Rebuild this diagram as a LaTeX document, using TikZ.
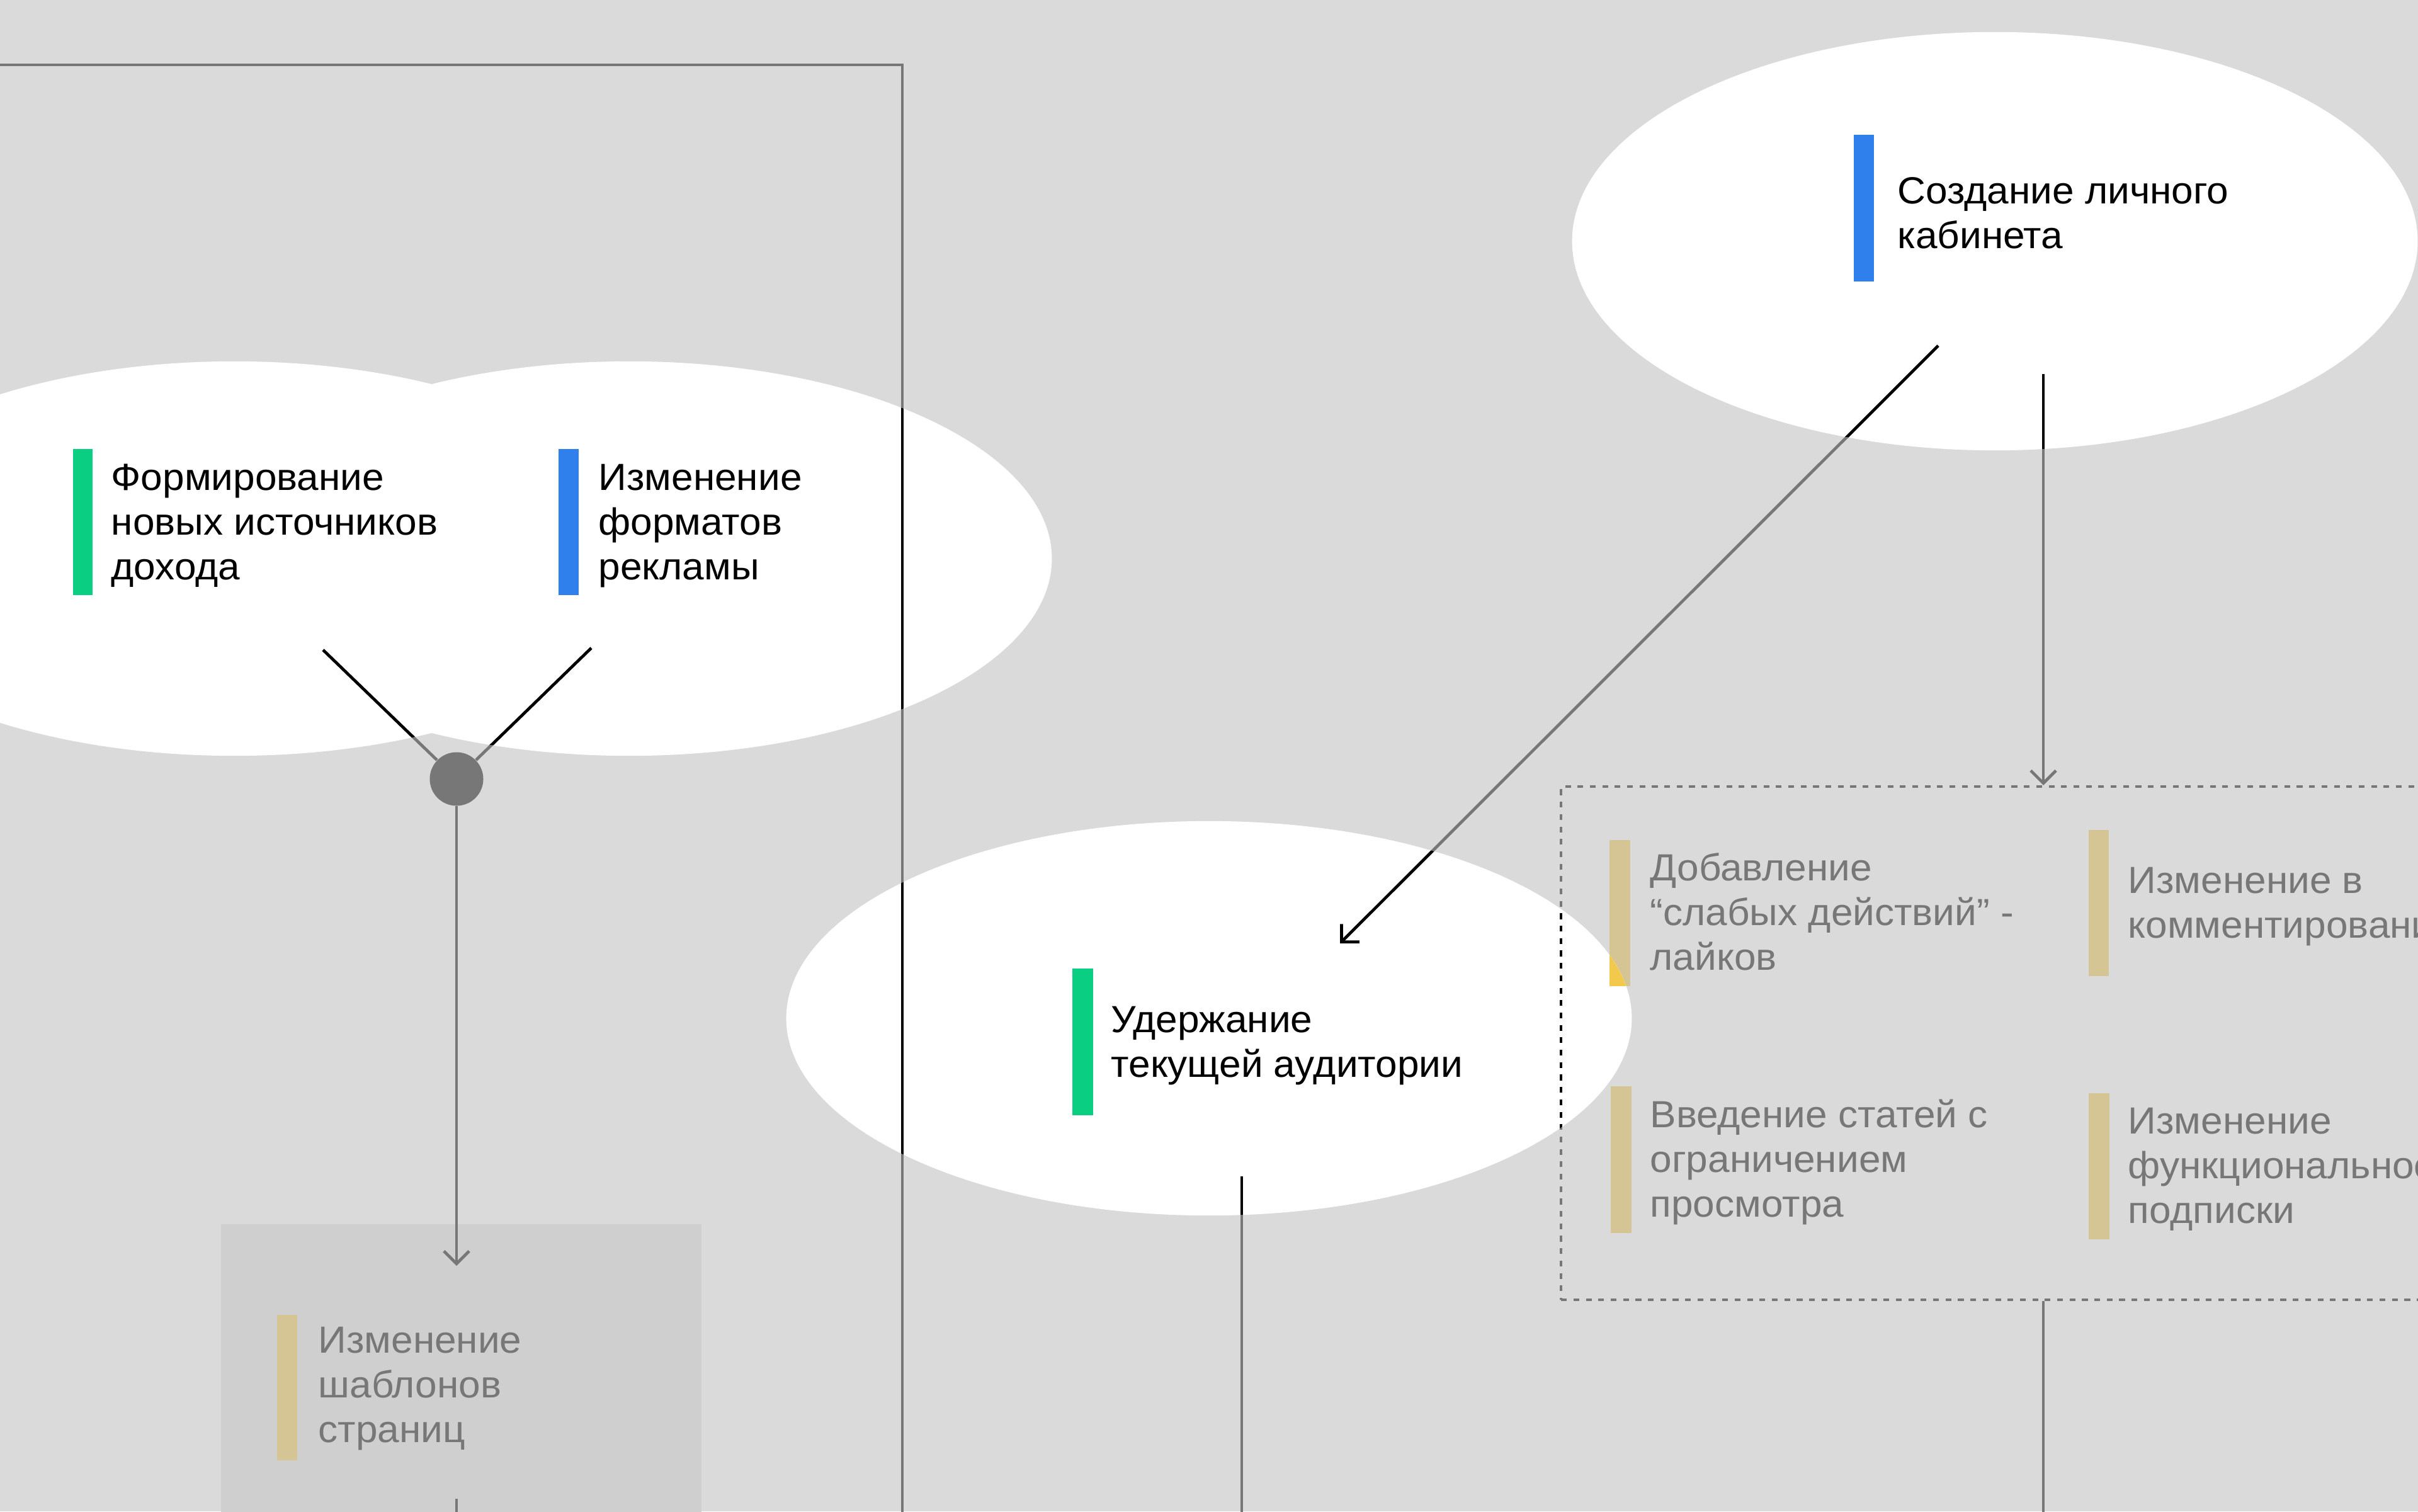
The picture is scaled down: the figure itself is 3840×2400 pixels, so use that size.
\documentclass[tikz,border=0pt]{standalone}
\usepackage{fontspec}
\setmainfont[FakeStretch=1.035]{Liberation Sans}
\usetikzlibrary{arrows.meta}

% base tone of the dimming veil and the undimmed colours
\definecolor{dimbase}{gray}{0.763}
\definecolor{rawgreen}{HTML}{0ACF83}
\definecolor{rawblue}{HTML}{2F80ED}
\definecolor{rawyellow}{HTML}{F2C94C}
\definecolor{rawtile}{HTML}{E3E3E3}

% #1 = share of the undimmed colour (100 = full colour)
\newcommand\usepalette[1]{%
  \colorlet{inkC}{black!#1!dimbase}%
  \colorlet{paperC}{white!#1!dimbase}%
  \colorlet{greenC}{rawgreen!#1!dimbase}%
  \colorlet{blueC}{rawblue!#1!dimbase}%
  \colorlet{yellowC}{rawyellow!#1!dimbase}%
  \colorlet{tileC}{rawtile!#1!dimbase}%
}
\newcommand\labelfont{\fontsize{17.07pt}{20.2pt}\selectfont}
\newcommand\stack[1]{\begin{tabular}[t]{@{}l@{}}#1\end{tabular}}

\tikzset{
  wire/.style={draw=inkC, line width=1.35pt},
  tip/.style={-{Straight Barb[length=5.7pt,width=11.4pt]}},
  lbl/.style={anchor=base west, inner sep=0pt, text=inkC, font=\labelfont},
  hubdot/.style={circle, fill=inkC, minimum size=0.85cm, inner sep=0pt},
  groupbox/.style={draw=inkC, line width=1.25pt, dash pattern=on 2.6pt off 3pt,
    anchor=north west, inner sep=0pt, minimum width=15cm, minimum height=8.14cm},
  tilebox/.style={fill=tileC, anchor=north west, inner sep=0pt,
    minimum width=7.63cm, minimum height=5cm},
}

\newcommand\Diagram{%
  \fill[paperC] (0,0) rectangle (3840,2400);
  % outer frame
  \draw[wire] (-20,103) -| (1433,2420);
  % boxes
  \node[tilebox] (tile) at (350,1943) {};
  \node[groupbox] (grp) at (2477,1247) {};
  % colour bars
  \fill[greenC]  (116,713) rectangle (147,945);
  \fill[blueC]   (887,713) rectangle (919,945);
  \fill[blueC]   (2944,214) rectangle (2976,447);
  \fill[greenC]  (1703,1538) rectangle (1736,1771);
  \fill[yellowC] (2556,1334) rectangle (2589,1566);
  \fill[yellowC] (3317,1318) rectangle (3349,1550);
  \fill[yellowC] (2558,1725) rectangle (2591,1958);
  \fill[yellowC] (3317,1736) rectangle (3350,1968);
  \fill[yellowC] (440,2088) rectangle (472,2319);
  % labels
  \node[lbl] (tForm) at (176,778) {\stack{Формирование\\новых источников\\дохода}};
  \node[lbl] (tAds) at (950,778) {\stack{Изменение\\форматов\\рекламы}};
  \node[lbl] (tCab) at (3013,323) {\stack{Создание личного\\кабинета}};
  \node[lbl] (tKeep) at (1764,1639) {\stack{Удержание\\текущей аудитории}};
  \node[lbl] (tLikes) at (2620,1398) {\stack{Добавление\\“слабых действий” -\\лайков}};
  \node[lbl] (tComm) at (3379,1418) {\stack{Изменение в\\комментировании}};
  \node[lbl] (tPaid) at (2620,1790) {\stack{Введение статей с\\ограничением\\просмотра}};
  \node[lbl] (tSubs) at (3379,1800) {\stack{Изменение\\функциональности\\подписки}};
  \node[lbl] (tTpl) at (505,2148) {\stack{Изменение\\шаблонов\\страниц}};
  % connectors
  \coordinate (fA) at (513,1032);
  \coordinate (fB) at (939,1029);
  \node[hubdot] (hub) at (725,1237) {};
  \coordinate (tileIn) at (725,2010);
  \coordinate (tileOut) at (725,2380);
  \coordinate (cabA) at (3078,549);
  \coordinate (cabB) at (3245,594);
  \coordinate (keepIn) at (2128,1498);
  \coordinate (keepOut) at (1972,1868);
  \draw[wire] (fA) -- (hub);
  \draw[wire] (fB) -- (hub);
  \draw[wire,tip] (hub) -- (tileIn);
  \draw[wire] (tileOut) -- (725,2420);
  \draw[wire,tip] (cabA) -- (keepIn);
  \draw[wire,tip] (cabB) -- (cabB |- grp.north);
  \draw[wire] (cabB |- grp.south) -- (3245,2420);
  \draw[wire] (keepOut) -- (1972,2420);
}

\begin{document}
\begin{tikzpicture}[x=0.01cm,y=-0.01cm]
  \useasboundingbox (0,0) rectangle (3840,2400);
  % dimmed layer
  \begin{scope}
    \usepalette{38.8}
    \Diagram
  \end{scope}
  % full-colour layer seen through the spotlights
  \begin{scope}
    \clip (372,887) ellipse [x radius=6.71cm, y radius=3.13cm]
          (999,887) ellipse [x radius=6.71cm, y radius=3.13cm]
          (1920,1617) ellipse [x radius=6.71cm, y radius=3.13cm]
          (3168,383) ellipse [x radius=6.71cm, y radius=3.32cm];
    \usepalette{100}
    \Diagram
  \end{scope}
\end{tikzpicture}
\end{document}
